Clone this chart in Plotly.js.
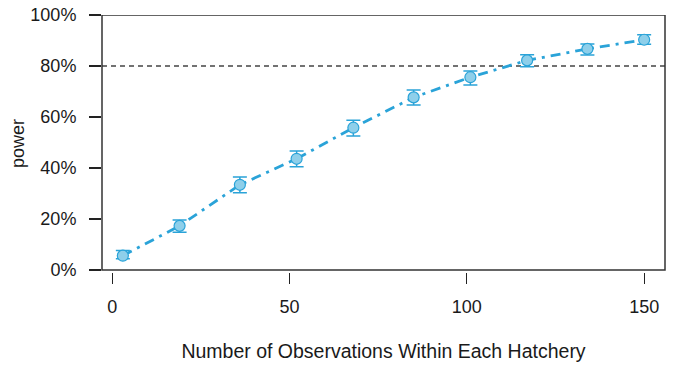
<!DOCTYPE html>
<html>
<head>
<meta charset="utf-8">
<script src="https://cdn.plot.ly/plotly-3.0.1.min.js"></script>
<style>html,body{margin:0;padding:0;background:#fff;}#chart{width:673px;height:367px;}</style>
</head>
<body>
<div id="chart"></div>
<script>
// Data
const sampleSizes = [3, 19, 36, 52, 68, 85, 101, 117, 134, 150];
const power       = [0.056, 0.173, 0.334, 0.436, 0.558, 0.677, 0.756, 0.822, 0.867, 0.903];
const upperCI     = [0.076, 0.196, 0.365, 0.467, 0.587, 0.706, 0.780, 0.844, 0.886, 0.923];
const lowerCI     = [0.044, 0.148, 0.303, 0.405, 0.525, 0.647, 0.725, 0.797, 0.843, 0.885];
const targetPower = 0.8;
const xTicks = [0, 50, 100, 150];
const yTicks = [0, 0.2, 0.4, 0.6, 0.8, 1.0];
const yTickText = ['0%', '20%', '40%', '60%', '80%', '100%'];

const errPlus = upperCI.map((u, i) => u - power[i]);
const errMinus = power.map((p, i) => p - lowerCI[i]);

const blue = '#2aa3d8';
const traces = [
  {
    x: sampleSizes, y: power, type: 'scatter', mode: 'lines',
    line: {color: blue, width: 2.8, dash: '10px,6px,3px,6px'},
    hoverinfo: 'skip', showlegend: false
  },
  {
    x: sampleSizes, y: power, type: 'scatter', mode: 'markers',
    marker: {size: 11, color: '#8ecfea', line: {color: blue, width: 1.2}},
    error_y: {type: 'data', symmetric: false, array: errPlus, arrayminus: errMinus,
              color: blue, thickness: 1.5, width: 7},
    showlegend: false
  }
];

const fam = 'Liberation Sans, Arial, sans-serif';
const tickFont = {family: fam, size: 18, color: '#1a1a1a'};
const titleFont = {family: fam, size: 19.5, color: '#1a1a1a'};
const layout = {
  width: 673, height: 367,
  margin: {l: 102, r: 8, t: 15, b: 95},
  paper_bgcolor: '#fff', plot_bgcolor: '#fff',
  font: tickFont,
  showlegend: false,
  xaxis: {
    range: [-2.88, 155.88], tickvals: xTicks, ticktext: xTicks.map(String),
    ticks: 'outside', ticklen: 11, tickwidth: 1.2, tickcolor: '#222',
    showline: false, showgrid: false, zeroline: false,
    tickfont: tickFont,
    ticklabelstandoff: 7,
    title: {text: 'Number of Observations Within Each Hatchery', font: titleFont, standoff: 28}
  },
  yaxis: {
    range: [-0.008, 1], tickvals: yTicks, ticktext: yTickText,
    ticks: 'outside', ticklen: 12, tickwidth: 1.2, tickcolor: '#222',
    showline: false, showgrid: false, zeroline: false,
    tickfont: tickFont,
    ticklabelstandoff: 9,
    title: {text: 'power', font: {family: fam, size: 18, color: '#1a1a1a'}, standoff: 1}
  },
  shapes: [
    {type: 'rect', xref: 'paper', yref: 'y', x0: 0, x1: 1, y0: 0, y1: 1,
     line: {color: '#333', width: 1.5}, fillcolor: 'rgba(0,0,0,0)', layer: 'above'},
    {type: 'line', xref: 'paper', yref: 'y', x0: 0, x1: 1, y0: targetPower, y1: targetPower,
     line: {color: '#444', width: 1.5, dash: '5px,4px'}, layer: 'below'}
  ]
};

Plotly.newPlot('chart', traces, layout, {displayModeBar: false, staticPlot: true});
</script>
</body>
</html>
